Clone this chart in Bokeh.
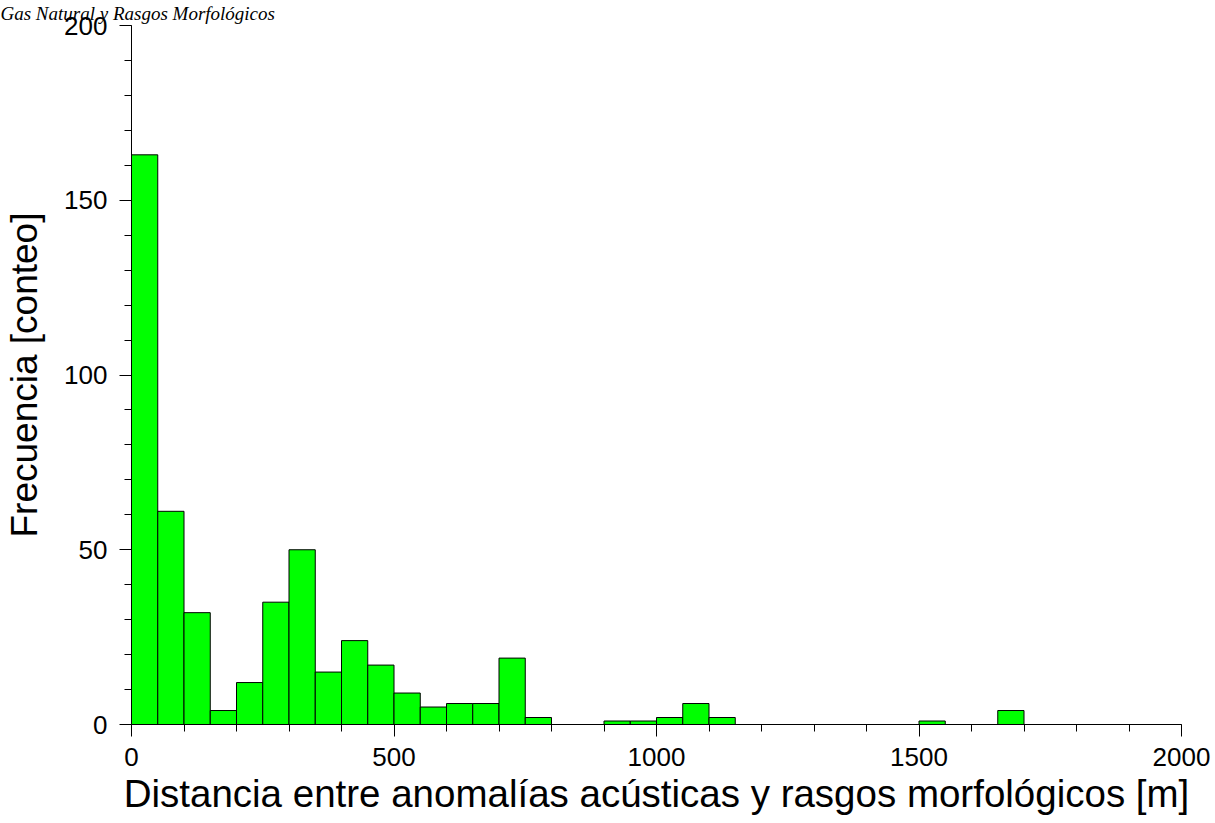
from bokeh.plotting import figure
from bokeh.models import Range1d, FixedTicker, ColumnDataSource
from bokeh.embed import file_html
from bokeh.resources import INLINE

# ---- data (histogram, bin width 50 m) ----
bin_left = [0, 50, 100, 150, 200, 250, 300, 350, 400, 450,
            500, 550, 600, 650, 700, 750, 800, 850, 900, 950,
            1000, 1050, 1100, 1150, 1200, 1250, 1300, 1350, 1400, 1450,
            1500, 1550, 1600, 1650, 1700, 1750, 1800, 1850, 1900, 1950]
counts = [163, 61, 32, 4, 12, 35, 50, 15, 24, 17,
          9, 5, 6, 6, 19, 2, 0, 0, 1, 1,
          2, 6, 2, 0, 0, 0, 0, 0, 0, 0,
          1, 0, 0, 4, 0, 0, 0, 0, 0, 0]
bin_width = 50

x_major = [0, 500, 1000, 1500, 2000]
y_major = [0, 50, 100, 150, 200]

title_text = "Gas Natural y Rasgos Morfológicos"
x_label = "Distancia entre anomalías acústicas y rasgos morfológicos [m]"
y_label = "Frecuencia [conteo]"

lefts = [b for b, c in zip(bin_left, counts) if c > 0]
tops = [c for c in counts if c > 0]
src = ColumnDataSource(dict(left=lefts, right=[l + bin_width for l in lefts],
                            top=tops, bottom=[0] * len(tops)))

p = figure(frame_width=1050, frame_height=699,
           x_range=Range1d(0, 2000), y_range=Range1d(0, 200),
           output_backend="svg", toolbar_location=None,
           min_border_left=131, min_border_right=31,
           min_border_top=25, min_border_bottom=91)

# title in the top border, left aligned at the canvas edge
p.title.text = title_text
p.title.align = "left"
p.title.offset = -131
p.title.standoff = 0
p.title.vertical_align = "top"
p.title.text_font = "Liberation Serif"
p.title.text_font_style = "italic"
p.title.text_font_size = "19px"
p.title.text_color = "black"

p.quad(left="left", right="right", top="top", bottom="bottom", source=src,
       fill_color="#00ff00", line_color="black", line_width=1)

p.xgrid.visible = False
p.ygrid.visible = False
p.outline_line_color = None
p.background_fill_color = "white"
p.border_fill_color = "white"

p.xaxis.ticker = FixedTicker(ticks=x_major, minor_ticks=list(range(0, 2001, 100)))
p.yaxis.ticker = FixedTicker(ticks=y_major, minor_ticks=list(range(0, 201, 10)))

for ax in (p.xaxis[0], p.yaxis[0]):
    ax.axis_line_color = "black"
    ax.axis_line_width = 1
    ax.major_tick_in = 0
    ax.major_tick_out = 12
    ax.minor_tick_in = 0
    ax.minor_tick_out = 7
    ax.major_tick_line_color = "black"
    ax.minor_tick_line_color = "black"
    ax.major_label_text_font = "Liberation Sans"
    ax.major_label_text_font_size = "26px"
    ax.major_label_text_color = "black"
    ax.axis_label_text_font = "Liberation Sans"
    ax.axis_label_text_font_style = "normal"
    ax.axis_label_text_color = "black"

p.xaxis.axis_label = x_label
p.yaxis.axis_label = y_label
p.xaxis.axis_label_text_font_size = "38.5px"
p.yaxis.axis_label_text_font_size = "37px"
p.xaxis.major_label_standoff = 11
p.xaxis.axis_label_standoff = 3
p.yaxis.major_label_standoff = 12
p.yaxis.axis_label_standoff = 16

open("out.html", "w").write(file_html(p, INLINE))
